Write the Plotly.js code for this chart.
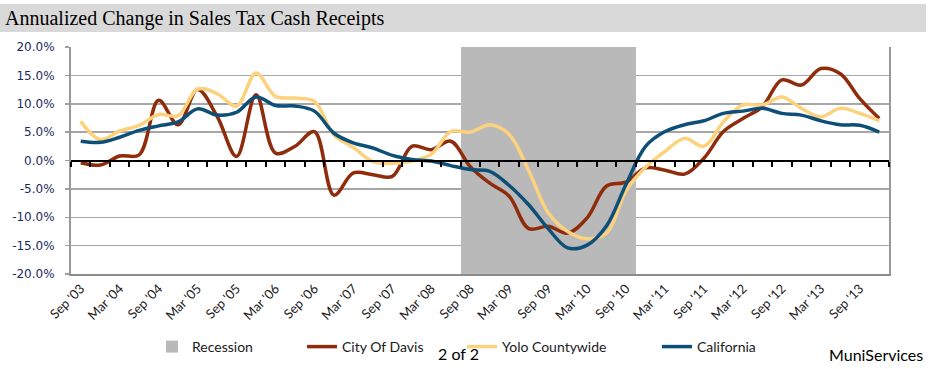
<!DOCTYPE html>
<html><head><meta charset="utf-8">
<script src="https://cdn.plot.ly/plotly-3.0.1.min.js"></script>
<style>html,body{margin:0;padding:0;background:#fff}#chart{width:929px;height:369px}</style>
</head><body><div id="chart"></div>
<script>
// ---- data (quarterly, annualized % change) ----
const quarters = ["Sep '03","Dec '03","Mar '04","Jun '04","Sep '04","Dec '04","Mar '05","Jun '05","Sep '05","Dec '05",
  "Mar '06","Jun '06","Sep '06","Dec '06","Mar '07","Jun '07","Sep '07","Dec '07","Mar '08","Jun '08",
  "Sep '08","Dec '08","Mar '09","Jun '09","Sep '09","Dec '09","Mar '10","Jun '10","Sep '10","Dec '10",
  "Mar '11","Jun '11","Sep '11","Dec '11","Mar '12","Jun '12","Sep '12","Dec '12","Mar '13","Jun '13",
  "Sep '13","Dec '13"];
const tickLabels = ["Sep '03","Mar '04","Sep '04","Mar '05","Sep '05","Mar '06","Sep '06","Mar '07","Sep '07","Mar '08",
  "Sep '08","Mar '09","Sep '09","Mar '10","Sep '10","Mar '11","Sep '11","Mar '12","Sep '12","Mar '13","Sep '13"];
const recession = [0,0,0,0,0,0,0,0,0,0, 0,0,0,0,0,0,0,0,0,0, 1,1,1,1,1,1,1,1,1,0, 0,0,0,0,0,0,0,0,0,0, 0,0];
const cityOfDavis = [-0.4,-0.8,0.8,1.0,10.6,6.3,12.5,7.8,0.7,11.6, 1.3,2.5,5.1,-6.1,-2.2,-2.5,-2.8,2.5,1.9,3.4,
  -1.1,-4.0,-6.3,-12.0,-11.6,-12.8,-10.1,-4.5,-3.8,-1.3, -1.7,-2.4,0.4,5.1,7.4,9.5,14.2,13.3,16.2,15.3, 10.9,7.4];
const yoloCountywide = [6.9,3.7,5.2,6.2,8.1,7.9,12.6,11.8,9.6,15.4, 11.3,11.0,10.4,4.5,2.3,-0.2,-0.5,-0.1,1.1,5.1,
  5.0,6.3,4.6,-1.8,-9.2,-12.5,-13.8,-12.8,-5.3,-1.2, 1.6,3.9,2.5,6.8,9.8,9.8,11.2,9.2,7.7,9.2, 8.3,7.0];
const california = [3.4,3.2,4.1,5.3,6.1,6.8,9.1,8.0,8.5,11.2, 9.7,9.6,8.7,4.8,3.1,2.2,0.9,0.2,-0.1,-0.9,
  -1.6,-1.9,-4.4,-7.8,-12.0,-15.4,-14.9,-11.5,-4.2,2.5, 5.1,6.3,7.0,8.3,8.7,9.2,8.3,8.0,7.0,6.3, 6.2,5.0];
const yTickVals = [20,15,10,5,0,-5,-10,-15,-20];
const yTickText = ["20.0%","15.0%","10.0%","5.0%","0.0%","-5.0%","-10.0%","-15.0%","-20.0%"];
const yMin = -20, yMax = 20;

// ---- geometry helpers ----
const W = 929, H = 369, M = {l:71, r:40, t:47, b:95, pad:0};
const pw = W - M.l - M.r, ph = H - M.t - M.b;
const px2x = p => (p - M.l) / pw;
const py2y = p => (H - M.b - p) / ph;

const legendFont = {family:'Lato, "Open Sans", sans-serif', size:14, color:'#1a1a1a'};

const traces = [
  {type:'bar', name:'Recession', x:quarters, y:recession.map(r => r ? (yMax - yMin) : null), base:yMin,
   width:1, marker:{color:'#b9b9b9', line:{width:0}}, xaxis:'x', yaxis:'y', legend:'legend', hoverinfo:'skip'},
  {type:'scatter', mode:'lines', name:'City Of Davis', x:quarters, y:cityOfDavis, xaxis:'x2', yaxis:'y',
   line:{color:'#8f2c0c', width:3.5, shape:'spline', smoothing:1}, legend:'legend2'},
  {type:'scatter', mode:'lines', name:'Yolo Countywide', x:quarters, y:yoloCountywide, xaxis:'x2', yaxis:'y',
   line:{color:'#fcd27e', width:3.5, shape:'spline', smoothing:1}, legend:'legend3'},
  {type:'scatter', mode:'lines', name:'California', x:quarters, y:california, xaxis:'x2', yaxis:'y',
   line:{color:'#0d4f77', width:3.5, shape:'spline', smoothing:1}, legend:'legend4'}
];

const legBase = {orientation:'h', xref:'container', yref:'container', yanchor:'middle', xanchor:'left',
  y:1 - 347/H, font:legendFont, bgcolor:'rgba(0,0,0,0)', borderwidth:0, itemwidth:30, tracegroupgap:0};

const layout = {
  width:W, height:H, margin:M, paper_bgcolor:'#fff', plot_bgcolor:'#fff',
  bargap:0, showlegend:true,
  title:{text:'Annualized Change in Sales Tax Cash Receipts', xref:'container', yref:'container',
    x:5/W, xanchor:'left', y:1 - 18/H, yanchor:'middle',
    font:{family:'"Liberation Serif", serif', size:20, color:'#000'}},
  xaxis:{type:'category', categoryorder:'array', categoryarray:quarters, range:[-0.5, quarters.length - 0.5],
    tickmode:'array', tickvals:tickLabels, ticktext:tickLabels, tickangle:-45, ticks:'',
    showline:true, linecolor:'#8c8c8c', linewidth:2, showgrid:false, zeroline:false, fixedrange:true, automargin:false,
    tickfont:{family:'Lato, "Open Sans", sans-serif', size:13, color:'#1a1a1a'}},
  xaxis2:{type:'category', categoryorder:'array', categoryarray:quarters, range:[-0.5, quarters.length - 0.5],
    overlaying:'x', anchor:'free', position:0.5, tickmode:'linear', tick0:0, dtick:1, tickson:'boundaries',
    ticks:'outside', ticklen:5, tickwidth:2, tickcolor:'#000', showline:true, linecolor:'#000', linewidth:2,
    showticklabels:false, showgrid:false, zeroline:false, fixedrange:true, automargin:false},
  yaxis:{range:[yMin, yMax], tickmode:'array', tickvals:yTickVals, ticktext:yTickText,
    ticks:'outside', ticklen:4, tickwidth:1.5, tickcolor:'#a0a0a0', ticklabelstandoff:8,
    showgrid:true, gridcolor:'#a6a6a6', gridwidth:1.5, zeroline:false, automargin:false,
    showline:true, mirror:true, linecolor:'#999', linewidth:2, fixedrange:true,
    tickfont:{family:'"DejaVu Sans", Verdana, sans-serif', size:12, color:'#1c2b5e'}},
  legend: Object.assign({}, legBase, {x:152/W}),
  legend2: Object.assign({}, legBase, {x:302/W}),
  legend3: Object.assign({}, legBase, {x:462/W}),
  legend4: Object.assign({}, legBase, {x:657/W}),
  shapes:[{type:'rect', xref:'paper', yref:'paper', x0:px2x(0), x1:px2x(926), y0:py2y(32), y1:py2y(4),
    fillcolor:'#d9d9d9', line:{width:0}, layer:'below'}],
  annotations:[
    {text:'2 of 2', xref:'paper', yref:'paper', x:px2x(458), y:py2y(353), xanchor:'center', yanchor:'middle',
     showarrow:false, font:{family:'Lato, "Open Sans", sans-serif', size:16, color:'#000'}},
    {text:'MuniServices', xref:'paper', yref:'paper', x:px2x(925), y:py2y(354), xanchor:'right', yanchor:'middle',
     showarrow:false, font:{family:'Lato, "Open Sans", sans-serif', size:16, color:'#000'}}
  ]
};

Plotly.newPlot('chart', traces, layout, {displayModeBar:false, staticPlot:true});
</script></body></html>
